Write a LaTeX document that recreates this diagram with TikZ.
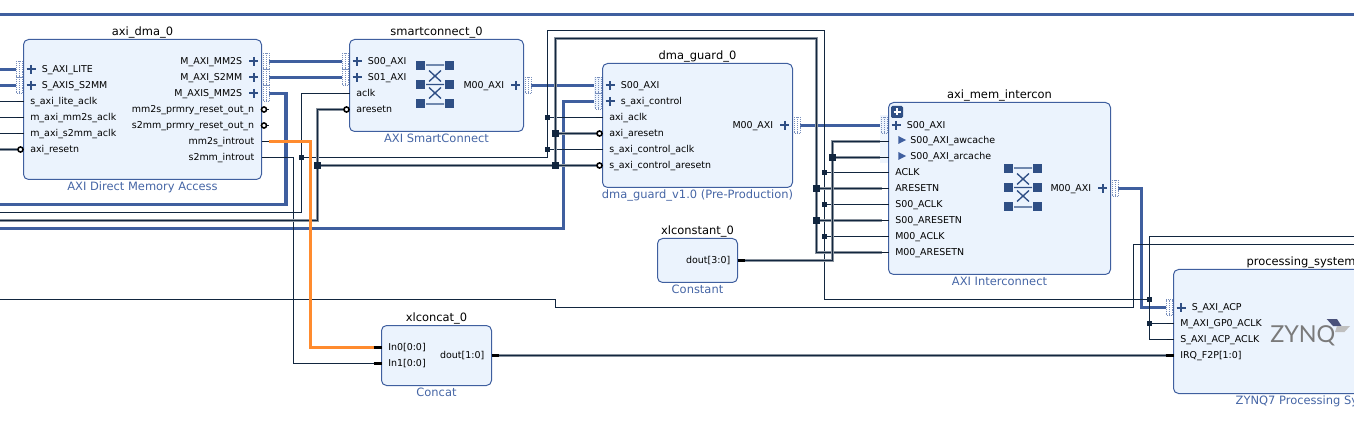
\documentclass[tikz,border=0pt]{standalone}
\usepackage{fontspec}
\setmainfont{DejaVu Sans}
\newfontfamily\zynqfont{Lato}
\usetikzlibrary{backgrounds}
\definecolor{wireblue}{HTML}{3F5F9F}
\definecolor{boxfill}{HTML}{EBF3FD}
\definecolor{boxline}{HTML}{3F5F9F}
\definecolor{iconblue}{HTML}{2F4F85}
\definecolor{darkwire}{HTML}{12263F}
\definecolor{halo}{HTML}{8A939E}
\definecolor{orangewire}{HTML}{FF8B2E}
\definecolor{subtext}{HTML}{4565A5}
\definecolor{palepanel}{HTML}{EFF5FD}
\tikzset{
  x=0.75pt,y=-0.75pt,
  block/.style={draw=boxline,line width=0.75pt,fill=boxfill,rounded corners=3.8pt,inner sep=0pt},
  blocktitle/.style={anchor=base,inner sep=0pt,text=black,font=\fontsize{8.6pt}{10pt}\selectfont},
  blocksub/.style={anchor=base,inner sep=0pt,text=subtext,font=\fontsize{8.6pt}{10pt}\selectfont},
  portw/.style={anchor=base west,inner sep=0pt,text=black,font=\fontsize{7.1pt}{8pt}\selectfont},
  porte/.style={anchor=base east,inner sep=0pt,text=black,font=\fontsize{7.1pt}{8pt}\selectfont},
  wthin/.style={draw=darkwire,line width=0.75pt},
  wthick/.style={draw=darkwire,line width=1.1pt,preaction={draw=halo,line width=2pt}},
  wbus/.style={draw=wireblue,line width=2.3pt},
  worange/.style={draw=orangewire,line width=2.2pt},
  pinstub/.style={draw=darkwire!80!black,line width=1.1pt},
  busstub/.style={draw=black,line width=2.4pt},
  negpin/.style={draw=black,line width=1.2pt,fill=white,circle,inner sep=0pt,minimum size=3.8pt},
  plusmark/.style={draw=iconblue,line width=1.5pt},
  busgrid/.style={draw=wireblue!70,line width=0.5pt,dash pattern=on 0.7pt off 0.7pt},
  juncs/.style={fill=darkwire,inner sep=0pt,minimum size=3.6pt},
  juncb/.style={fill=darkwire,inner sep=0pt,minimum size=4.6pt},
  xsq/.style={fill=iconblue,inner sep=0pt,minimum size=6.8pt},
  xline/.style={draw=iconblue,line width=1pt},
  hierbtn/.style={fill=iconblue,rounded corners=1pt,inner sep=0pt,minimum size=9pt},
}
% name, x1, y1, x2, y2, title, subtitle
\newcommand\vivblock[7]{%
  \pgfmathsetmacro\bw{(#4-#2)*0.75}\pgfmathsetmacro\bh{(#5-#3)*0.75}%
  \node[block,minimum width=\bw pt,minimum height=\bh pt] (#1) at ({(#2+#4)/2},{(#3+#5)/2}) {};
  \node[blocktitle] (#1-title) at ({(#2+#4)/2},#3-3.8) {#6};
  \node[blocksub] (#1-sub) at ({(#2+#4)/2},#5+11.2) {#7};
}
\newcommand\plusat[2]{\draw[plusmark] (#1-4.5,#2) -- (#1+4.5,#2) (#1,#2-4.5) -- (#1,#2+4.5);}
\newcommand\gridat[2]{%
  \draw[busgrid] (#1-3,#2-8) rectangle (#1+3,#2+8) (#1,#2-8) -- (#1,#2+8);}
% name, box edge x, y, text
\newcommand\busL[4]{%
  \coordinate (#1) at (#2-8,#3);
  \gridat{#2-4.5}{#3}\plusat{#2+7.5}{#3}
  \node[portw] (#1-t) at (#2+18,#3+3.1) {#4};}
\newcommand\busR[4]{%
  \coordinate (#1) at (#2+7.5,#3);
  \gridat{#2+4.5}{#3}\plusat{#2-8}{#3}
  \node[porte] (#1-t) at (#2-19,#3+3.1) {#4};}
\newcommand\pinL[4]{%
  \coordinate (#1) at (#2-7,#3);
  \draw[pinstub] (#2-7,#3) -- (#2,#3);
  \node[portw] (#1-t) at (#2+6.5,#3+3.1) {#4};}
\newcommand\pinR[4]{%
  \coordinate (#1) at (#2+7,#3);
  \draw[pinstub] (#2,#3) -- (#2+7,#3);
  \node[porte] (#1-t) at (#2-7,#3+3.1) {#4};}
\newcommand\negL[4]{%
  \coordinate (#1) at (#2-3,#3);
  \node[negpin] (#1-c) at (#2-3,#3) {};
  \node[portw] (#1-t) at (#2+6.5,#3+3.1) {#4};}
\newcommand\negR[4]{%
  \coordinate (#1) at (#2+7,#3);
  \draw[pinstub] (#2+3,#3) -- (#2+7,#3);
  \node[negpin] (#1-c) at (#2+2.5,#3) {};
  \node[porte] (#1-t) at (#2-7,#3+3.1) {#4};}
\newcommand\vecL[4]{%
  \coordinate (#1) at (#2-8,#3);
  \draw[busstub] (#2-8,#3) -- (#2,#3);
  \node[portw] (#1-t) at (#2+6.5,#3+3.1) {#4};}
\newcommand\vecR[4]{%
  \coordinate (#1) at (#2+7.5,#3);
  \draw[busstub] (#2,#3) -- (#2+7.5,#3);
  \node[porte] (#1-t) at (#2-7,#3+3.1) {#4};}
\newcommand\xbarat[3]{%
  \foreach \sx in {-14.5,14.5}\foreach \sy in {-19,0,19}{\node[xsq] at (#2+\sx,#3+\sy) {};}
  \draw[xline] (#2-9,#3-19.5) -- (#2+9,#3-19.5) (#2-9,#3) -- (#2+9,#3) (#2-9,#3+19.5) -- (#2+9,#3+19.5)
    (#2-6,#3-14) -- (#2+6,#3-3) (#2+6,#3-14) -- (#2-6,#3-3)
    (#2-6,#3+3) -- (#2+6,#3+14) (#2+6,#3+3) -- (#2-6,#3+14);}
\begin{document}
\begin{tikzpicture}
\useasboundingbox (0,0) rectangle (1354,424);
% pale panels
\fill[palepanel] (594,77) rectangle (602.5,108);
\fill[palepanel] (880,115) rectangle (888.5,163);
% blocks
\vivblock{dma}{23.5}{39.5}{261.5}{179.5}{axi\_dma\_0}{AXI Direct Memory Access}
\vivblock{sc}{349.5}{39.5}{523.5}{131.5}{smartconnect\_0}{AXI SmartConnect}
\vivblock{dg}{602.5}{63.5}{792.5}{187.5}{dma\_guard\_0}{dma\_guard\_v1.0 (Pre-Production)}
\vivblock{ic}{888.5}{102.5}{1110.5}{274.5}{axi\_mem\_intercon}{AXI Interconnect}
\vivblock{k}{657.5}{238.5}{737.5}{282.5}{xlconstant\_0}{Constant}
\vivblock{cc}{381.5}{325.5}{491.5}{385.5}{xlconcat\_0}{Concat}
\vivblock{ps}{1173.5}{269.5}{1449}{393.5}{processing\_system7\_0}{ZYNQ7 Processing System}
% axi_dma_0 ports
\busL{dmaLite}{23.5}{69.5}{S\_AXI\_LITE}
\busL{dmaSS}{23.5}{85.5}{S\_AXIS\_S2MM}
\pinL{dmaAclk}{23.5}{101.5}{s\_axi\_lite\_aclk}
\pinL{dmaMclk}{23.5}{117.5}{m\_axi\_mm2s\_aclk}
\pinL{dmaSclk}{23.5}{133.5}{m\_axi\_s2mm\_aclk}
\negL{dmaRst}{23.5}{149.5}{axi\_resetn}
\busR{dmaMM}{261.5}{61.5}{M\_AXI\_MM2S}
\busR{dmaMS}{261.5}{77.5}{M\_AXI\_S2MM}
\busR{dmaMA}{261.5}{93.5}{M\_AXIS\_MM2S}
\negR{dmaPm}{261.5}{109.5}{mm2s\_prmry\_reset\_out\_n}
\negR{dmaPs}{261.5}{125.5}{s2mm\_prmry\_reset\_out\_n}
\pinR{dmaIm}{261.5}{141.5}{mm2s\_introut}
\pinR{dmaIs}{261.5}{157.5}{s2mm\_introut}
% smartconnect ports
\busL{scS0}{349.5}{61.5}{S00\_AXI}
\busL{scS1}{349.5}{77.5}{S01\_AXI}
\pinL{scClk}{349.5}{93.5}{aclk}
\negL{scRst}{349.5}{109.5}{aresetn}
\busR{scM0}{523.5}{85.5}{M00\_AXI}
\xbarat{sc}{435}{84.5}
% dma_guard ports
\busL{dgS0}{602.5}{85.5}{S00\_AXI}
\busL{dgCt}{602.5}{101.5}{s\_axi\_control}
\pinL{dgClk}{602.5}{117.5}{axi\_aclk}
\negL{dgRst}{602.5}{133.5}{axi\_aresetn}
\pinL{dgCclk}{602.5}{149.5}{s\_axi\_control\_aclk}
\negL{dgCrst}{602.5}{165.5}{s\_axi\_control\_aresetn}
\busR{dgM0}{792.5}{125.5}{M00\_AXI}
% constant
\vecR{kOut}{737.5}{260.5}{dout[3:0]}
% interconnect ports
\busL{icS0}{888.5}{125.5}{S00\_AXI}
\coordinate (icAw) at (880,141.5);
\coordinate (icAr) at (880,157.5);
\draw[pinstub] (880,141.5) -- (888.5,141.5) (880,157.5) -- (888.5,157.5);
\fill[wireblue] (898.3,136) -- (906,140) -- (898.3,144) -- cycle;
\fill[wireblue] (898.3,152) -- (906,156) -- (898.3,160) -- cycle;
\node[portw] (icAw-t) at (910,143.6) {S00\_AXI\_awcache};
\node[portw] (icAr-t) at (910,159.6) {S00\_AXI\_arcache};
\pinL{icAclk}{888.5}{172.5}{ACLK}
\pinL{icArst}{888.5}{188.5}{ARESETN}
\pinL{icSclk}{888.5}{204.5}{S00\_ACLK}
\pinL{icSrst}{888.5}{220.5}{S00\_ARESETN}
\pinL{icMclk}{888.5}{236.5}{M00\_ACLK}
\pinL{icMrst}{888.5}{252.5}{M00\_ARESETN}
\busR{icM0}{1110.5}{188.5}{M00\_AXI}
\xbarat{ic}{1023}{187.5}
\node[hierbtn] (icBtn) at (897,112) {};
\draw[white,line width=0.9pt] (893.5,112) -- (900.5,112) (897,108.5) -- (897,115.5);
% concat
\vecL{ccI0}{381.5}{347.5}{In0[0:0]}
\vecL{ccI1}{381.5}{363.5}{In1[0:0]}
\vecR{ccOut}{491.5}{355.5}{dout[1:0]}
% processing system
\busL{psAcp}{1173.5}{307.5}{S\_AXI\_ACP}
\pinL{psGp}{1173.5}{323.5}{M\_AXI\_GP0\_ACLK}
\pinL{psClk}{1173.5}{339.5}{S\_AXI\_ACP\_ACLK}
\vecL{psIrq}{1173.5}{355.5}{IRQ\_F2P[1:0]}
\node[anchor=base west,inner sep=0pt,text=black!52,font=\zynqfont\fontsize{17.5pt}{18pt}\selectfont] (zynq) at (1270,342) {ZYNQ};
\fill[black!75!cyan!60!blue] (1326.7,319) -- (1337,319) -- (1341.5,326) -- (1333,326) -- cycle;
\fill[black!25] (1337,326) -- (1350,326) -- (1344.5,332) -- (1335,332) -- cycle;
% junctions
\foreach \jn/\jx/\jy in {jA/301.5/157.5,jG1/547.5/117.5,jG2/547.5/149.5,jI1/824.5/172.5,jI2/824.5/204.5,jI3/824.5/236.5,jP1/1149.5/299.5,jP2/1149.5/323.5}{\node[juncs] (\jn) at (\jx,\jy) {};}
\foreach \jn/\jx/\jy in {jD1/317.5/165.5,jD2/555.5/165.5,jD3/555.5/133.5,jD4/816.5/188.5,jD5/816.5/220.5,jE/832.5/157.5}{\node[juncb] (\jn) at (\jx,\jy) {};}
% free ends and bends
\coordinate (fLite) at (0,69.5);
\coordinate (fSS) at (0,85.5);
\coordinate (fAclk) at (0,101.5);
\coordinate (fMclk) at (0,117.5);
\coordinate (fSclk) at (0,133.5);
\coordinate (fRst) at (0,149.5);
\coordinate (fMA) at (0,204.5);
\coordinate (wMA) at (286,204.5);
\coordinate (fClk) at (0,212.5);
\coordinate (fDrst) at (0,220.5);
\coordinate (fCt) at (0,228.5);
\coordinate (wCt) at (563.5,228.5);
\coordinate (wIs) at (293.5,157.5);
\coordinate (wTopC) at (824.5,30.5);
\coordinate (wBotC) at (824.5,299.5);
\coordinate (wTopR) at (816.5,38.5);
\coordinate (fPt) at (1354,236.5);
\coordinate (fB) at (0,299.5);
\coordinate (wB1) at (555.5,307.5);
\coordinate (wB2) at (1133.5,244.5);
\coordinate (fB2) at (1354,244.5);
\coordinate (wO) at (310.5,347.5);
\coordinate (wT) at (1141.5,307.5);
\coordinate (fTopL) at (0,14.5);
\coordinate (fTopR) at (1354,14.5);
\begin{scope}[on background layer]
\draw[wbus] (fTopL) -- (fTopR);
\draw[wbus] (fLite) -- (dmaLite);
\draw[wbus] (fSS) -- (dmaSS);
\draw[wbus] (dmaMM) -- (scS0);
\draw[wbus] (dmaMS) -- (scS1);
\draw[wbus] (dmaMA) -| (wMA) -- (fMA);
\draw[wbus] (scM0) -- (dgS0);
\draw[wbus] (fCt) -- (wCt) |- (dgCt);
\draw[wbus] (dgM0) -- (icS0);
\draw[wbus] (icM0) -| (wT) -- (psAcp);
% thin wires
\draw[wthin] (fAclk) -- (dmaAclk);
\draw[wthin] (fMclk) -- (dmaMclk);
\draw[wthin] (fSclk) -- (dmaSclk);
\draw[wthin] (fClk) -| (jA.center) |- (scClk);
\draw[wthin] (jA.center) -| (jG2.center) -- (jG1.center) |- (wTopC) -- (jI1.center) -- (jI2.center) -- (jI3.center) -- (wBotC) -- (jP1.center) -- (jP2.center) |- (psClk);
\draw[wthin] (jP1.center) |- (fPt);
\draw[wthin] (jP2.center) -- (psGp);
\draw[wthin] (jG1.center) -- (dgClk);
\draw[wthin] (jG2.center) -- (dgCclk);
\draw[wthin] (jI1.center) -- (icAclk);
\draw[wthin] (jI2.center) -- (icSclk);
\draw[wthin] (jI3.center) -- (icMclk);
\draw[wthin] (fB) -| (wB1) -| (wB2) -- (fB2);
\draw[wthin] (dmaIs) -- (wIs) |- (ccI1);
% thick wires
\draw[wthick] (fRst) -- (dmaRst);
\draw[wthick] (fDrst) -| (jD1.center) |- (scRst);
\draw[wthick] (jD1.center) -- (jD2.center) -- (dgCrst);
\draw[wthick] (jD3.center) -- (dgRst);
\draw[wthick] (jD2.center) -- (jD3.center) |- (wTopR) -- (jD4.center) -- (jD5.center) |- (icMrst);
\draw[wthick] (jD4.center) -- (icArst);
\draw[wthick] (jD5.center) -- (icSrst);
\draw[wthick] (kOut) -| (jE.center) |- (icAw);
\draw[wthick] (jE.center) -- (icAr);
\draw[wthick] (ccOut) -- (psIrq);
% interrupt wire
\draw[worange] (dmaIm) -| (wO) -- (ccI0);
\end{scope}
\end{tikzpicture}
\end{document}
